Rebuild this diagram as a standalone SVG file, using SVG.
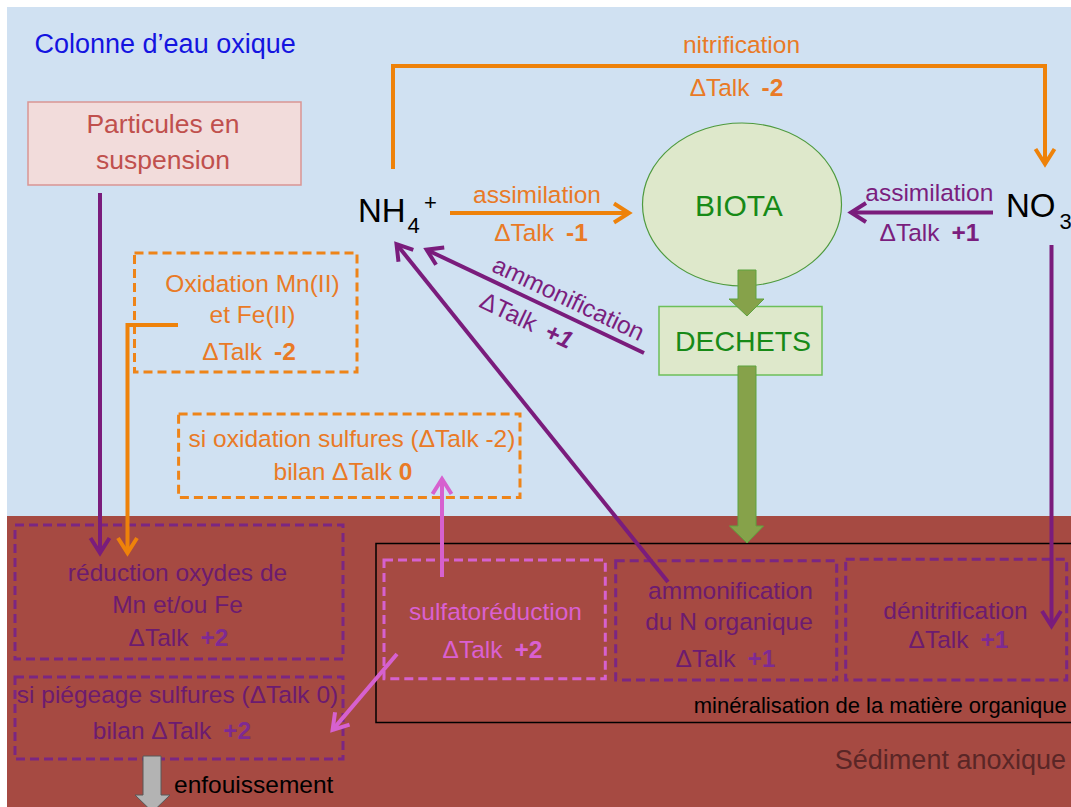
<svg xmlns="http://www.w3.org/2000/svg" width="1071" height="807" viewBox="0 0 1071 807">
<style>
text{font-family:"Liberation Sans",Arial,sans-serif;font-size:24.5px}
.c{text-anchor:middle}
.b{font-weight:bold}
.or{fill:#E97A26}
.pu{fill:#6C1B70}
.pb{fill:#7E2A92}
.pu2{fill:#7A1E7E}
.pk{fill:#DA60D2}
.gr{fill:#178A17}
.dash{fill:none;stroke-width:3;stroke-dasharray:9 5}
.lo{fill:none;stroke:#EE820A;stroke-width:4}
.lp{fill:none;stroke:#7A1C7C;stroke-width:4}
.lk{fill:none;stroke:#D661CF;stroke-width:4}
.blk{fill:#86A24A;stroke:#5DA33F;stroke-width:1}
</style>
<defs>
<marker id="mo" markerUnits="userSpaceOnUse" orient="auto" markerWidth="40" markerHeight="40" viewBox="-20 -20 40 40" refX="0" refY="0" overflow="visible"><path d="M-15,-9.5 L0,0 L-15,9.5" fill="none" stroke="#EE820A" stroke-width="4"/></marker>
<marker id="mp" markerUnits="userSpaceOnUse" orient="auto" markerWidth="40" markerHeight="40" viewBox="-20 -20 40 40" refX="0" refY="0" overflow="visible"><path d="M-15,-9.5 L0,0 L-15,9.5" fill="none" stroke="#7A1C7C" stroke-width="4"/></marker>
<marker id="mk" markerUnits="userSpaceOnUse" orient="auto" markerWidth="40" markerHeight="40" viewBox="-20 -20 40 40" refX="0" refY="0" overflow="visible"><path d="M-15,-9.5 L0,0 L-15,9.5" fill="none" stroke="#D661CF" stroke-width="4"/></marker>
</defs>

<g id="background">
<rect x="0" y="0" width="1071" height="807" fill="#ffffff"/>
<rect x="7" y="7" width="1064" height="509" fill="#D0E1F2"/>
<rect x="7" y="516" width="1064" height="291" fill="#A64A42"/>
<text x="34.5" y="53" style="font-size:27px" fill="#1414E0">Colonne d’eau oxique</text>
<text x="1066" y="769.3" style="font-size:27px;text-anchor:end" fill="#5A2626">Sédiment anoxique</text>
</g>

<g id="mineralisation">
<rect x="376" y="543.5" width="700" height="179" fill="none" stroke="#000" stroke-width="1.5"/>
<text x="1066.7" y="712.7" style="font-size:22px;text-anchor:end" fill="#000">minéralisation de la matière organique</text>
</g>

<g id="particules">
<rect x="28" y="102" width="273" height="83" fill="#F2DCDB" stroke="#D99594" stroke-width="1.5"/>
<text class="c" x="163" y="133" style="font-size:26.5px" fill="#C0504D">Particules en</text>
<text class="c" x="163" y="169" style="font-size:26.5px" fill="#C0504D">suspension</text>
</g>

<g id="oxidation">
<rect class="dash" x="134.5" y="253" width="222.5" height="119" stroke="#EE8418"/>
<text class="c or" x="252.5" y="291.7">Oxidation Mn(II)</text>
<text class="c or" x="252.5" y="322.5">et Fe(II)</text>
<text class="c or" x="249" y="359.5">ΔTalk<tspan class="b" dx="12">-2</tspan></text>
</g>

<g id="oxsulfures">
<rect class="dash" x="178.6" y="414" width="341.4" height="83.5" stroke="#EE8418"/>
<text class="c or" x="352" y="446.7">si oxidation sulfures (ΔTalk -2)</text>
<text class="c or" x="343" y="480">bilan ΔTalk <tspan class="b">0</tspan></text>
</g>

<g id="nh4">
<text x="358" y="222" style="font-size:33px" fill="#000">NH</text>
<text x="407.5" y="233" style="font-size:22px" fill="#000">4</text>
<text x="424" y="210" style="font-size:22px" fill="#000">+</text>
</g>

<g id="no3">
<text x="1006" y="217.3" style="font-size:33px" fill="#000">NO</text>
<text x="1059.5" y="228.5" style="font-size:22px" fill="#000">3</text>
</g>

<g id="biota">
<ellipse cx="742" cy="204.5" rx="99.5" ry="81.5" fill="#DEE8CB" stroke="#4E9A3E" stroke-width="1.2"/>
<text class="c gr" x="739" y="216" style="font-size:30px">BIOTA</text>
</g>

<g id="dechets">
<rect x="659" y="306.5" width="163" height="68.5" fill="#DEE8CB" stroke="#6CBF5A" stroke-width="1.5"/>
<text class="c gr" x="743" y="350.7" style="font-size:28.5px">DECHETS</text>
</g>

<g id="reduction">
<rect class="dash" x="15" y="525" width="328" height="134" stroke="#7B2682"/>
<text class="c pu" x="177.5" y="581">réduction oxydes de</text>
<text class="c pu" x="177.5" y="613">Mn et/ou Fe</text>
<text class="c pu" x="178.5" y="646">ΔTalk<tspan class="b pb" dx="12">+2</tspan></text>
</g>

<g id="piegeage">
<rect class="dash" x="15" y="677" width="328" height="82" stroke="#7B2682"/>
<text class="c pu" x="177.5" y="703">si piégeage sulfures (ΔTalk 0)</text>
<text class="c pu" x="172" y="739">bilan ΔTalk<tspan class="b pb" dx="12">+2</tspan></text>
</g>

<g id="sulfatoreduction">
<rect class="dash" x="384" y="560" width="221.3" height="118.7" stroke="#D661CF"/>
<text class="c pk" x="495.5" y="620">sulfatoréduction</text>
<text class="c pk" x="492.5" y="658.3">ΔTalk<tspan class="b" dx="12">+2</tspan></text>
</g>

<g id="ammonification">
<rect class="dash" x="615.7" y="560.7" width="221" height="119.3" stroke="#7B2682"/>
<text class="c pu" x="730.5" y="599.3">ammonification</text>
<text class="c pu" x="729" y="630">du N organique</text>
<text class="c pu" x="725.5" y="667">ΔTalk<tspan class="b pb" dx="12">+1</tspan></text>
</g>

<g id="denitrification">
<rect class="dash" x="845.7" y="559.3" width="221" height="120.7" stroke="#7B2682"/>
<text class="c pu" x="955.5" y="619.3">dénitrification</text>
<text class="c pu" x="958.5" y="648.3">ΔTalk<tspan class="b pb" dx="12">+1</tspan></text>
</g>

<g id="connectors">
<line class="lp" x1="100" y1="193" x2="100" y2="553" marker-end="url(#mp)"/>
<polyline class="lo" points="178,325 127.5,325 127.5,553" marker-end="url(#mo)"/>
<polyline class="lo" points="393,169 393,66 1045,66 1045,164" marker-end="url(#mo)"/>
<text class="c or" x="741.5" y="53.3">nitrification</text>
<text class="c or" x="736.5" y="96">ΔTalk<tspan class="b" dx="12">-2</tspan></text>
<line class="lo" x1="450" y1="213" x2="629" y2="213" marker-end="url(#mo)"/>
<text class="c or" x="537" y="203">assimilation</text>
<text class="c or" x="541" y="241">ΔTalk<tspan class="b" dx="12">-1</tspan></text>
<line class="lp" x1="993" y1="212.5" x2="851" y2="212.5" marker-end="url(#mp)"/>
<text class="c pu2" x="929.3" y="200.7">assimilation</text>
<text class="c pu2" x="929.5" y="240.7">ΔTalk<tspan class="b" dx="12">+1</tspan></text>
<line class="lp" x1="1051.5" y1="245" x2="1051.5" y2="626" marker-end="url(#mp)"/>
<line class="lp" x1="644" y1="353" x2="426.6" y2="249.7" marker-end="url(#mp)"/>
<text class="c pu2" transform="translate(565,306) rotate(25.4)">ammonification</text>
<text class="c pu2" transform="translate(523,328) rotate(25.4)">ΔTalk<tspan class="b" style="font-style:italic" dx="12">+1</tspan></text>
<line class="lp" x1="668" y1="582" x2="396.5" y2="244.1" marker-end="url(#mp)"/>
<line class="lk" x1="442" y1="577" x2="442" y2="479" marker-end="url(#mk)"/>
<line class="lk" x1="397" y1="654" x2="332.6" y2="729.9" marker-end="url(#mk)"/>
<polygon class="blk" points="738,270 756,270 756,299 764,299 747,316 729,299 738,299"/>
<polygon class="blk" points="738,366 756,366 756,526 763.5,526 747,543 729.5,526 738,526"/>
<polygon points="143,756 161,756 161,795 170,795 152.5,812 135,795 143,795" fill="#B3B3B3" stroke="#595959" stroke-width="1"/>
<text x="174" y="793" fill="#000">enfouissement</text>
</g>
</svg>
